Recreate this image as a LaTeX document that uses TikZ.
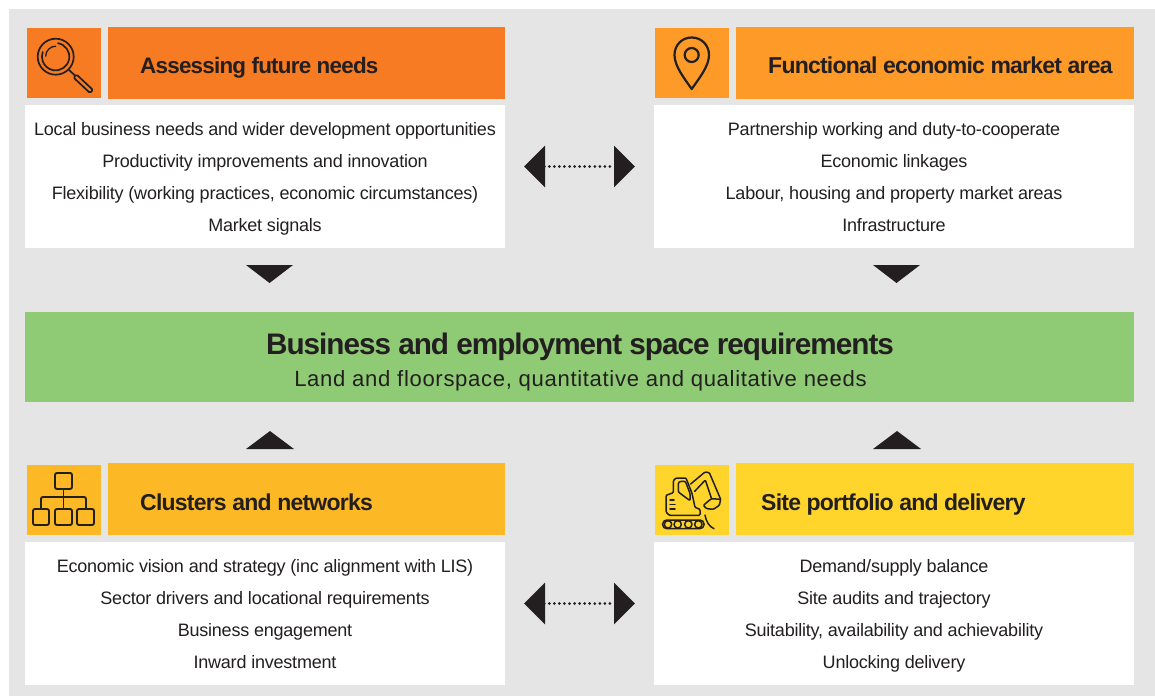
\documentclass[tikz,border=0pt]{standalone}
\usepackage{fontspec}
\setmainfont{Liberation Sans}
\newfontface\headface[LetterSpace=-3.4]{Liberation Sans Bold}
\newfontface\bodyface[LetterSpace=-1.2]{Liberation Sans}
\newfontface\subface[LetterSpace=3]{Liberation Sans}
\newcommand{\topline}{\rule{0pt}{24.4pt}}
\definecolor{cpanel}{HTML}{E5E5E5}
\definecolor{cink}{HTML}{231F20}
\definecolor{cA}{HTML}{F77B22}
\definecolor{cB}{HTML}{FD9A28}
\definecolor{cC}{HTML}{FDB825}
\definecolor{cD}{HTML}{FFD52B}
\definecolor{cG}{HTML}{8FCB74}
\usetikzlibrary{arrows.meta}
\tikzset{
  x=1pt,y=-1pt,
  box/.style={inner sep=0pt,outer sep=0pt,anchor=north west},
  bodybox/.style={box,fill=white,minimum width=480pt,minimum height=143pt,text=cink,
     align=center,font=\bodyface\fontsize{18}{32}\selectfont},
  headbox/.style={box,minimum width=398pt,minimum height=72pt},
  iconbox/.style={box,minimum width=74pt,minimum height=70pt},
  headtext/.style={anchor=base west,inner sep=0pt,text=cink,font=\headface\fontsize{23}{26}\selectfont},
  iconline/.style={draw=cink,line width=1.7pt,line cap=round,line join=round},
  twoway/.style={line width=3pt,cink,line cap=round,dash pattern=on 0pt off 5.05pt,
     {Triangle[length=21pt,width=41pt,sep=0pt]}-{Triangle[length=21pt,width=41pt,sep=0pt]}},
  wedge/.style={fill=cink,draw=none}
}
\begin{document}
\begin{tikzpicture}
\useasboundingbox (0,0) rectangle (1155,696);
\fill[white] (0,0) rectangle (1155,696);
\fill[cpanel] (9,9) rectangle (1155,696);

% top row
\node[iconbox,fill=cA] (iconA) at (27,28) {};
\node[headbox,fill=cA,minimum width=397.5pt] (headA) at (107.5,27) {};
\node[headtext,font=\headface\fontsize{22.4}{26}\selectfont] (titleA) at (140,73) {Assessing future needs};
\node[bodybox] (bodyA) at (25,105) {\topline Local business needs and wider development opportunities\\Productivity improvements and innovation\\Flexibility (working practices, economic circumstances)\\\strut Market signals};

\node[iconbox,fill=cB] (iconB) at (655,28) {};
\node[headbox,fill=cB] (headB) at (736,27) {};
\node[headtext] (titleB) at (768,73) {Functional economic market area};
\node[bodybox] (bodyB) at (654,105) {\topline Partnership working and duty-to-cooperate\\Economic linkages\\Labour, housing and property market areas\\\strut Infrastructure};

% centre
\node[box,fill=cG,minimum width=1109pt,minimum height=90pt] (centre) at (25,312) {};
\node[anchor=base,inner sep=0pt,text=cink,font=\headface\fontsize{29.7}{34}\selectfont] (centreT) at (580,354) {Business and employment space requirements};
\node[anchor=base,inner sep=0pt,text=cink,font=\subface\fontsize{22.1}{26}\selectfont] (centreS) at (580.5,386) {Land and floorspace, quantitative and qualitative needs};

% bottom row
\node[iconbox,fill=cC] (iconC) at (27,465) {};
\node[headbox,fill=cC,minimum width=397.5pt] (headC) at (107.5,463) {};
\node[headtext] (titleC) at (140,510) {Clusters and networks};
\node[bodybox] (bodyC) at (25,541.5) {\topline Economic vision and strategy (inc alignment with LIS)\\Sector drivers and locational requirements\\Business engagement\\\strut Inward investment};

\node[iconbox,fill=cD] (iconD) at (655,465) {};
\node[headbox,fill=cD] (headD) at (736,463) {};
\node[headtext] (titleD) at (761,510) {Site portfolio and delivery};
\node[bodybox] (bodyD) at (654,541.5) {\topline Demand/supply balance\\Site audits and trajectory\\Suitability, availability and achievability\\\strut Unlocking delivery};

% two-way connectors
\coordinate (tl) at (524,166.5); \coordinate (tr) at (635,166.5);
\coordinate (bl) at (524,603.5); \coordinate (br) at (635,603.5);
\draw[twoway] (tl) -- (tr);
\draw[twoway] (bl) -- (br);

% wedges
\fill[wedge] (246,265) -- (293,265) -- (269.5,283) -- cycle;
\fill[wedge] (873,265) -- (920,265) -- (896.5,283) -- cycle;
\fill[wedge] (246,449) -- (294,449) -- (270,431) -- cycle;
\fill[wedge] (873,449) -- (921,449) -- (897,431) -- cycle;

% magnifier icon
\begin{scope}[iconline]
\draw (55.7,56.7) circle (18);
\draw (58,43.2) arc (80:-200:13.7pt);
\draw[line width=1.3pt] (45.7,56.2) arc (180:90:10pt);
\draw (69,70) -- (75,75.5);
\draw[rounded corners=1.5pt] (73.5,77.5) -- (76.5,74.5) -- (93,90) -- (90,93) -- cycle;
\end{scope}

% pin icon
\draw[iconline,line width=2.2pt] (691.7,89) .. controls (684,78) and (674.5,66) .. (674.5,55) .. controls (674.5,45) and (682,37.5) .. (691.7,37.5) .. controls (701.4,37.5) and (709,45) .. (709,55) .. controls (709,66) and (699.4,78) .. (691.7,89) -- cycle;
\draw[iconline,line width=2.2pt] (691.7,55) circle (7);

% hierarchy icon
\begin{scope}[iconline,line width=1.9pt,rounded corners=2pt]
\draw (55,473) rectangle (72,489);
\draw (33,509) rectangle (49,525);
\draw (55,509) rectangle (72,525);
\draw (77,509) rectangle (94,525);
\draw (63.5,489) -- (63.5,509);
\draw (41,509) -- (41,497) -- (86,497) -- (86,509);
\end{scope}

% excavator icon
\begin{scope}[shift={(640,450)}]
\begin{scope}[x=0.3333pt,y=-0.3333pt,iconline,line width=1.5pt]
\draw[rounded corners=1pt] (100,128) -- (100,92) -- (108,84) -- (138,84) -- (156,130) -- (165,172) -- (180,178) -- (180,196) -- (88,196) -- (78,186) -- (78,136) -- cycle;
\draw[rounded corners=1pt] (115,98) -- (122,94) -- (136,94) -- (150,130) -- (150,152) -- (115,126) -- cycle;
\draw[rounded corners=1pt] (152,102) -- (195,66) -- (208,68) -- (242,148);
\draw[rounded corners=1pt] (164,124) -- (196,90) -- (214,144);
\draw[rounded corners=1pt] (190,166) -- (214,146) -- (242,148) -- (238,166) -- (220,178) -- (200,176) -- cycle;
\draw (90,150) -- (102,150) (90,163) -- (105,163) (90,177) -- (105,177);
\draw[rounded corners=4pt] (68,210) rectangle (192,236);
\draw (84,223) circle (3.7pt) (113,223) circle (3.7pt) (145,223) circle (3.7pt) (175,223) circle (3.7pt);
\draw (195,195) .. controls (198,215) and (208,230) .. (222,236);
\end{scope}
\end{scope}
\end{tikzpicture}
\end{document}
